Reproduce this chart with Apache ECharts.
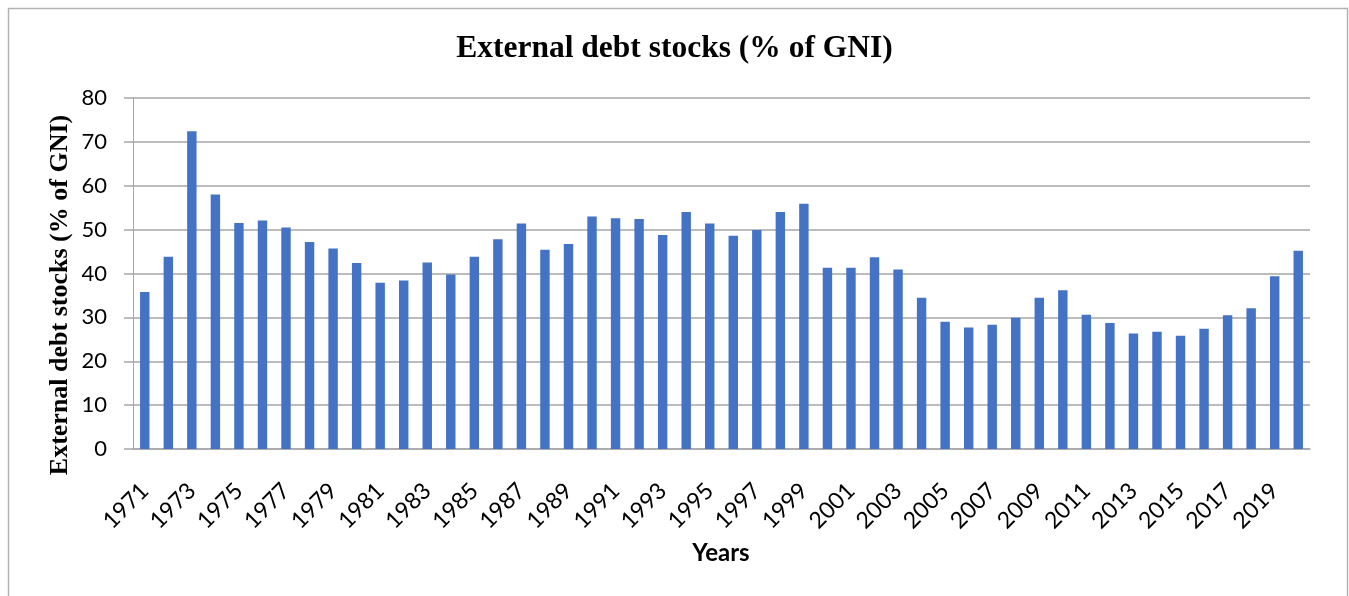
<!DOCTYPE html>
<html>
<head>
<meta charset="utf-8">
<title>External debt stocks (% of GNI)</title>
<script src="https://cdn.jsdelivr.net/npm/echarts@6/dist/echarts.min.js"></script>
<style>
  html, body { margin: 0; padding: 0; background: #ffffff; }
  #chart { width: 1349px; height: 596px; }
</style>
</head>
<body>
<div id="chart"></div>
<script>
// Years on the category axis
const years = [];
for (let y = 1971; y <= 2020; y++) years.push(String(y));

// External debt stocks, % of GNI
const debtPctGNI = [
  35.8, 43.8, 72.4, 58.0, 51.5, 52.1, 50.5, 47.2, 45.7, 42.4,
  37.9, 38.4, 42.5, 39.8, 43.8, 47.8, 51.4, 45.4, 46.7, 53.0,
  52.6, 52.4, 48.8, 54.0, 51.4, 48.6, 49.9, 54.0, 55.9, 41.3,
  41.3, 43.7, 40.9, 34.5, 29.0, 27.7, 28.3, 29.9, 34.5, 36.2,
  30.6, 28.7, 26.3, 26.7, 25.8, 27.4, 30.5, 32.1, 39.4, 45.2
];

// Value axis ticks
const yTicks = [0, 10, 20, 30, 40, 50, 60, 70, 80];

const chartTitle = 'External debt stocks (% of GNI)';
const yAxisTitle = 'External debt stocks (% of GNI)';
const xAxisTitle = 'Years';

const chart = echarts.init(document.getElementById('chart'), null, { renderer: 'canvas' });

const gridLeft = 133, gridRight = 39, gridTop = 98, gridBottom = 147;
const axisGray = '#a6a6a6';
const sans = 'Lato, "Noto Sans", sans-serif';
const serif = '"Liberation Serif", "DejaVu Serif", serif';

chart.setOption({
  animation: false,
  backgroundColor: '#ffffff',
  title: {
    text: chartTitle,
    left: 'center',
    top: 28,
    textStyle: { fontFamily: serif, fontWeight: 'bold', fontSize: 31.5, color: '#000000' }
  },
  grid: { left: gridLeft, right: gridRight, top: gridTop, bottom: gridBottom, containLabel: false },
  xAxis: {
    type: 'category',
    data: years,
    boundaryGap: true,
    axisLine: { show: true, lineStyle: { color: axisGray, width: 1.5 } },
    axisTick: { show: false },
    axisLabel: {
      interval: 1,
      rotate: 45,
      margin: 38,
      fontFamily: sans,
      fontSize: 23,
      color: '#000000'
    }
  },
  yAxis: {
    type: 'value',
    min: yTicks[0],
    max: yTicks[yTicks.length - 1],
    interval: yTicks[1] - yTicks[0],
    axisLine: { show: true, lineStyle: { color: axisGray, width: 1 } },
    axisTick: { show: true, length: 9, lineStyle: { color: axisGray, width: 1.5 } },
    splitLine: { show: true, lineStyle: { color: axisGray, width: 1.5 } },
    axisLabel: {
      margin: 26,
      fontFamily: sans,
      fontSize: 22,
      color: '#000000'
    }
  },
  series: [{
    type: 'bar',
    data: debtPctGNI,
    barWidth: '40%',
    itemStyle: { color: '#4472c4' }
  }],
  graphic: [
    {
      type: 'rect',
      shape: { x: 8.5, y: 8.5, width: 1339, height: 620 },
      style: { fill: 'none', stroke: '#b3b3b3', lineWidth: 1.5 },
      silent: true
    },
    {
      type: 'text',
      x: 60,
      y: 295,
      rotation: Math.PI / 2,
      style: {
        text: yAxisTitle,
        fontFamily: serif,
        fontWeight: 'bold',
        fontSize: 26,
        fill: '#000000',
        align: 'center',
        verticalAlign: 'middle'
      }
    },
    {
      type: 'text',
      x: 721,
      y: 553,
      style: {
        text: xAxisTitle,
        fontFamily: sans,
        fontWeight: 'bold',
        fontSize: 24,
        fill: '#000000',
        align: 'center',
        verticalAlign: 'middle'
      }
    }
  ]
});
</script>
</body>
</html>
